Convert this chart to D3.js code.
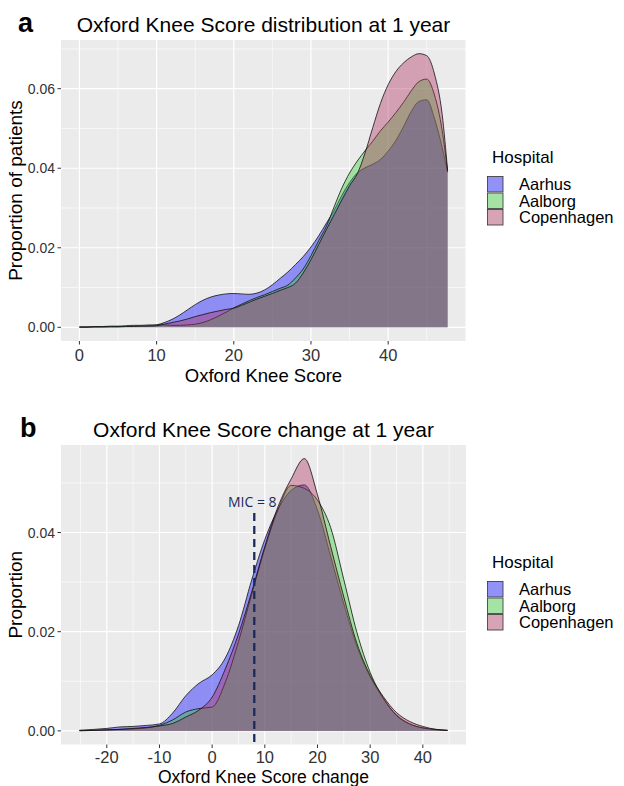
<!DOCTYPE html>
<html>
<head>
<meta charset="utf-8">
<script src="https://cdn.jsdelivr.net/npm/d3@7"></script>
<style>
  body { margin: 0; background: #fff; }
  svg { display: block; }
</style>
</head>
<body>
<script>
// ---- data ----
const hospitals = ['Aarhus', 'Aalborg', 'Copenhagen'];
const hospitalColors = ['#0000ff', '#32cd32', '#b03060'];

// panel a: Oxford Knee Score at 1 year
const scoreX = [0, 1, 2, 3, 4, 5, 6, 7, 8, 9, 10, 11, 12, 13, 14, 15, 16, 17, 18, 19,
  20, 21, 22, 23, 24, 25, 26, 27, 28, 29, 30, 31, 32, 33, 34, 35, 36, 37, 38, 39,
  40, 41, 42, 43, 44, 45, 46, 47, 47.7];
const scoreAarhus = [0.0001, 0.0001, 0.0001, 0.0001, 0.0002, 0.0002, 0.0002, 0.0003, 0.0003, 0.0004,
  0.0006, 0.0012, 0.0020, 0.0031, 0.0044, 0.0057, 0.0068, 0.0076, 0.0081, 0.0084,
  0.0085, 0.0084, 0.0083, 0.0086, 0.0094, 0.0107, 0.0123, 0.0139, 0.0158, 0.0178,
  0.0202, 0.0230, 0.0262, 0.0294, 0.0332, 0.0364, 0.0388, 0.0401, 0.0410, 0.0422,
  0.0443, 0.0470, 0.0505, 0.0543, 0.0568, 0.0572, 0.0525, 0.0452, 0.0390];
const scoreAalborg = [0.0001, 0.0001, 0.0002, 0.0002, 0.0003, 0.0003, 0.0004, 0.0005, 0.0005, 0.0006,
  0.0006, 0.0006, 0.0005, 0.0005, 0.0006, 0.0008, 0.0012, 0.0019, 0.0028, 0.0038,
  0.0049, 0.0058, 0.0067, 0.0075, 0.0082, 0.0090, 0.0098, 0.0106, 0.0124, 0.0147,
  0.0180, 0.0218, 0.0254, 0.0303, 0.0350, 0.0388, 0.0418, 0.0444, 0.0468, 0.0494,
  0.0516, 0.0540, 0.0566, 0.0595, 0.0618, 0.0624, 0.0584, 0.0495, 0.0392];
const scoreCopenhagen = [0.0000, 0.0000, 0.0001, 0.0001, 0.0001, 0.0001, 0.0002, 0.0002, 0.0003, 0.0003,
  0.0004, 0.0008, 0.0012, 0.0016, 0.0021, 0.0027, 0.0032, 0.0037, 0.0041, 0.0045,
  0.0048, 0.0055, 0.0063, 0.0071, 0.0078, 0.0085, 0.0093, 0.0100, 0.0111, 0.0137,
  0.0170, 0.0208, 0.0246, 0.0283, 0.0320, 0.0356, 0.0386, 0.0438, 0.0502, 0.0563,
  0.0610, 0.0643, 0.0665, 0.0680, 0.0688, 0.0683, 0.0637, 0.0535, 0.0395];
const scoreXTicks = [0, 10, 20, 30, 40];
const scoreXMinor = [5, 15, 25, 35, 45, 50];
const scoreYTicks = [0, 0.02, 0.04, 0.06];
const scoreYMinor = [0.01, 0.03, 0.05, 0.07];

// panel b: Oxford Knee Score change at 1 year
const changeX = [-25.2, -22.5, -20, -17.5, -15, -12.5, -10, -7.5, -5, -2.5, 0, 2.5, 5, 7.5, 10,
  12.5, 15, 17.5, 20, 22.5, 25, 27.5, 30, 32.5, 35, 37.5, 40, 42.5, 44.7];
const changeAarhus = [0.0001, 0.0003, 0.0005, 0.0008, 0.0009, 0.0011, 0.0014, 0.0036, 0.0071, 0.0096,
  0.0113, 0.0147, 0.0212, 0.0304, 0.0386, 0.0447, 0.0485, 0.0496, 0.0445, 0.0352,
  0.0256, 0.0170, 0.0109, 0.0065, 0.0032, 0.0014, 0.0006, 0.0002, 0.0001];
const changeAalborg = [0.0001, 0.0001, 0.0002, 0.0003, 0.0004, 0.0006, 0.0011, 0.0022, 0.0038, 0.0045,
  0.0048, 0.0098, 0.0180, 0.0275, 0.0368, 0.0446, 0.0495, 0.0489, 0.0465, 0.0410,
  0.0305, 0.0198, 0.0118, 0.0066, 0.0031, 0.0014, 0.0006, 0.0003, 0.0001];
const changeCopenhagen = [0.0000, 0.0001, 0.0002, 0.0003, 0.0005, 0.0007, 0.0010, 0.0015, 0.0028, 0.0042,
  0.0068, 0.0125, 0.0195, 0.0280, 0.0372, 0.0452, 0.0508, 0.0549, 0.0476, 0.0372,
  0.0270, 0.0176, 0.0112, 0.0069, 0.0037, 0.0019, 0.0009, 0.0003, 0.0001];
const changeXTicks = [-20, -10, 0, 10, 20, 30, 40];
const changeXMinor = [-25, -15, -5, 5, 15, 25, 35, 45];
const changeYTicks = [0, 0.02, 0.04];
const changeYMinor = [0.01, 0.03, 0.05];
const mic = 8;

// ---- drawing ----
const W = 624, H = 786;
const FONT = 'Liberation Sans, Arial, sans-serif';
const svg = d3.select('body').append('svg').attr('width', W).attr('height', H);
svg.append('rect').attr('width', W).attr('height', H).attr('fill', '#fff');

function expand(lo, hi) {
  const pad = (hi - lo) * 0.05;
  return [lo - pad, hi + pad];
}

function drawPanel(p) {
  const g = svg.append('g');
  const left = 61, right = 466;
  const x = d3.scaleLinear().domain(expand(d3.min(p.xs), d3.max(p.xs))).range([left, right]);
  const yMax = d3.max(p.series.flat());
  const y = d3.scaleLinear().domain(expand(0, yMax)).range([p.bottom, p.top]);

  g.append('rect')
    .attr('x', left).attr('y', p.top)
    .attr('width', right - left).attr('height', p.bottom - p.top)
    .attr('fill', '#ebebeb');

  // grid
  g.selectAll('.vminor').data(p.xMinor).join('line')
    .attr('x1', d => x(d)).attr('x2', d => x(d))
    .attr('y1', p.top).attr('y2', p.bottom)
    .attr('stroke', '#fff').attr('stroke-width', 0.6);
  g.selectAll('.hminor').data(p.yMinor).join('line')
    .attr('x1', left).attr('x2', right)
    .attr('y1', d => y(d)).attr('y2', d => y(d))
    .attr('stroke', '#fff').attr('stroke-width', 0.6);
  g.selectAll('.vmajor').data(p.xTicks).join('line')
    .attr('x1', d => x(d)).attr('x2', d => x(d))
    .attr('y1', p.top).attr('y2', p.bottom)
    .attr('stroke', '#fff').attr('stroke-width', 1.2);
  g.selectAll('.hmajor').data(p.yTicks).join('line')
    .attr('x1', left).attr('x2', right)
    .attr('y1', d => y(d)).attr('y2', d => y(d))
    .attr('stroke', '#fff').attr('stroke-width', 1.2);

  // densities
  const area = d3.area()
    .x((d, i) => x(p.xs[i]))
    .y0(y(0))
    .y1(d => y(d))
    .curve(d3.curveMonotoneX);
  const line = d3.line()
    .x((d, i) => x(p.xs[i]))
    .y(d => y(d))
    .curve(d3.curveMonotoneX);

  p.series.forEach((vals, k) => {
    g.append('path').attr('d', area(vals))
      .attr('fill', hospitalColors[k]).attr('fill-opacity', 0.4);
    g.append('path').attr('d', line(vals))
      .attr('fill', 'none').attr('stroke', '#111').attr('stroke-width', 0.8);
  });

  if (p.extra) p.extra(g, x, y);

  // axes
  g.selectAll('.xt').data(p.xTicks).join('line')
    .attr('x1', d => x(d)).attr('x2', d => x(d))
    .attr('y1', p.bottom).attr('y2', p.bottom + 3.5)
    .attr('stroke', '#333').attr('stroke-width', 1);
  g.selectAll('.xl').data(p.xTicks).join('text')
    .attr('x', d => x(d)).attr('y', p.bottom + p.tickGap)
    .attr('text-anchor', 'middle')
    .attr('font-family', FONT).attr('font-size', '16.5px').attr('fill', '#333')
    .text(d => d);
  g.selectAll('.yt').data(p.yTicks).join('line')
    .attr('x1', left - 3.5).attr('x2', left)
    .attr('y1', d => y(d)).attr('y2', d => y(d))
    .attr('stroke', '#333').attr('stroke-width', 1);
  g.selectAll('.yl').data(p.yTicks).join('text')
    .attr('x', left - 6).attr('y', d => y(d)).attr('dy', '0.36em')
    .attr('text-anchor', 'end')
    .attr('font-family', FONT).attr('font-size', '14px').attr('fill', '#333')
    .text(d3.format('.2f'));

  // titles
  g.append('text')
    .attr('x', (left + right) / 2).attr('y', p.top - 8.5)
    .attr('text-anchor', 'middle')
    .attr('font-family', FONT).attr('font-size', '21px').attr('fill', '#000')
    .text(p.title);
  g.append('text')
    .attr('x', p.tagX).attr('y', p.top - 8)
    .attr('font-family', FONT).attr('font-size', '27px').attr('font-weight', 'bold')
    .text(p.tag);
  g.append('text')
    .attr('x', (left + right) / 2).attr('y', p.xLabelY)
    .attr('text-anchor', 'middle')
    .attr('font-family', FONT).attr('font-size', p.xLabelSize).attr('fill', '#000')
    .text(p.xLabel);
  g.append('text')
    .attr('transform', `translate(22,${(p.top + p.bottom) / 2}) rotate(-90)`)
    .attr('text-anchor', 'middle')
    .attr('font-family', FONT).attr('font-size', '19px').attr('fill', '#000')
    .text(p.yLabel);

  // legend
  const lg = g.append('g').attr('transform', `translate(487,${p.legendTop})`);
  lg.append('text').attr('x', 5).attr('y', 0)
    .attr('font-family', FONT).attr('font-size', '17px')
    .text('Hospital');
  const key = 16.5;
  hospitals.forEach((h, k) => {
    const ky = 13 + k * key;
    lg.append('rect').attr('x', 0).attr('y', ky).attr('width', key).attr('height', key)
      .attr('fill', '#f2f2f2');
    lg.append('rect').attr('x', 0.5).attr('y', ky + 0.5).attr('width', key - 1).attr('height', key - 1)
      .attr('fill', hospitalColors[k]).attr('fill-opacity', 0.4)
      .attr('stroke', '#333').attr('stroke-width', 0.8);
    lg.append('text').attr('x', 32).attr('y', ky + key / 2).attr('dy', '0.36em')
      .attr('font-family', FONT).attr('font-size', '16.5px')
      .text(h);
  });
}

drawPanel({
  top: 40, bottom: 341, tag: 'a', tagX: 18,
  tickGap: 20, xLabelY: 381.5, xLabelSize: '18.5px',
  xs: scoreX, series: [scoreAarhus, scoreAalborg, scoreCopenhagen],
  xTicks: scoreXTicks, xMinor: scoreXMinor, yTicks: scoreYTicks, yMinor: scoreYMinor,
  title: 'Oxford Knee Score distribution at 1 year',
  xLabel: 'Oxford Knee Score', yLabel: 'Proportion of patients',
  legendTop: 163
});

drawPanel({
  top: 445, bottom: 744.5, tag: 'b', tagX: 20,
  tickGap: 18, xLabelY: 782.5, xLabelSize: '17.5px',
  xs: changeX, series: [changeAarhus, changeAalborg, changeCopenhagen],
  xTicks: changeXTicks, xMinor: changeXMinor, yTicks: changeYTicks, yMinor: changeYMinor,
  title: 'Oxford Knee Score change at 1 year',
  xLabel: 'Oxford Knee Score change', yLabel: 'Proportion',
  legendTop: 568,
  extra: (g, x, y) => {
    g.append('line')
      .attr('x1', x(mic)).attr('x2', x(mic))
      .attr('y1', 513).attr('y2', 744.5)
      .attr('stroke', '#1a2a5c').attr('stroke-width', 2.3)
      .attr('stroke-dasharray', '8,5');
    g.append('text')
      .attr('x', x(mic) - 2).attr('y', 507)
      .attr('text-anchor', 'middle')
      .attr('font-family', 'Open Sans, sans-serif').attr('font-size', '14px')
      .attr('fill', '#1a2a5c')
      .text('MIC = ' + mic);
  }
});
</script>
</body>
</html>
